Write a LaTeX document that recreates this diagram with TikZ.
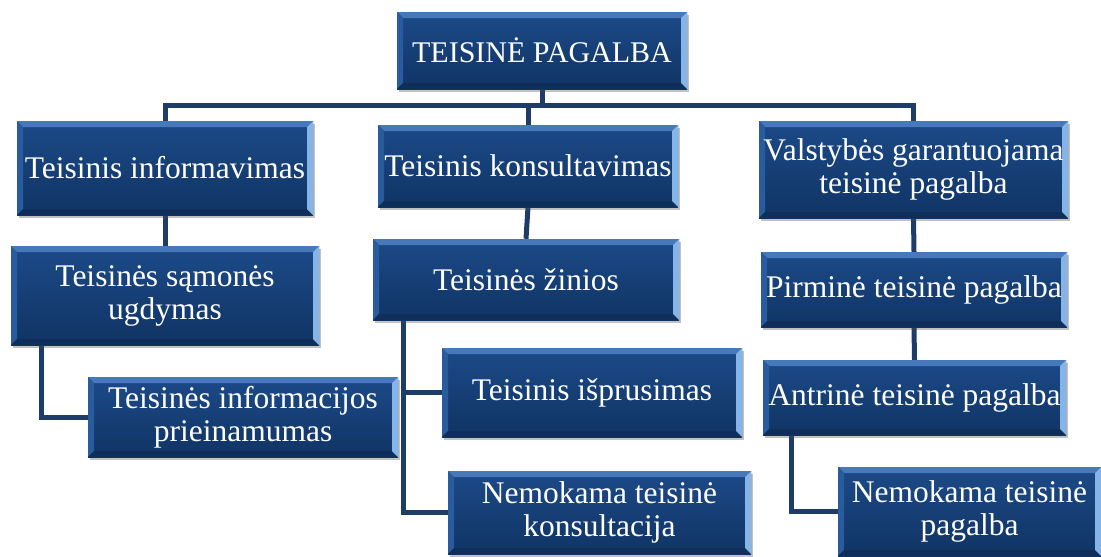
\documentclass[tikz,border=0pt]{standalone}
\usepackage{fontspec}
\setmainfont{Liberation Serif}
\usetikzlibrary{shadows}
\pgfdeclarelayer{background}
\pgfsetlayers{background,main}

\definecolor{boxtop}{RGB}{28,74,136}
\definecolor{boxbot}{RGB}{16,52,100}
\definecolor{bevtop}{RGB}{70,120,186}
\definecolor{bevleft}{RGB}{40,92,158}
\definecolor{bevright}{RGB}{132,180,232}
\definecolor{bevbot}{RGB}{15,46,90}
\definecolor{linkcol}{RGB}{30,60,105}

\begin{document}
\begin{tikzpicture}[x=1pt,y=-1pt]
	\tikzstyle{box}=[rectangle,inner sep=0pt,align=center,text=white,
		top color=boxtop,bottom color=boxbot,
		font=\fontsize{31.5}{33}\selectfont,
		drop shadow={shadow xshift=2pt,shadow yshift=-3pt,opacity=0.35,fill=black!70},
		path picture={
			\path (path picture bounding box.north west) coordinate (nw)
				(path picture bounding box.north east) coordinate (ne)
				(path picture bounding box.south west) coordinate (sw)
				(path picture bounding box.south east) coordinate (se);
			\fill[bevtop] (nw) -- (ne) -- ([xshift=-6pt,yshift=-6pt]ne) -- ([xshift=6pt,yshift=-6pt]nw) -- cycle;
			\fill[bevleft] (nw) -- ([xshift=6pt,yshift=-6pt]nw) -- ([xshift=6pt,yshift=6pt]sw) -- (sw) -- cycle;
			\fill[bevbot] (sw) -- ([xshift=6pt,yshift=6pt]sw) -- ([xshift=-6pt,yshift=6pt]se) -- (se) -- cycle;
			\fill[bevright] (ne) -- (se) -- ([xshift=-6pt,yshift=6pt]se) -- ([xshift=-6pt,yshift=-6pt]ne) -- cycle;
		}]
	\tikzstyle{link}=[draw=linkcol,line width=5pt]
	
	\useasboundingbox (0,0) rectangle (1101,557);
	
	\coordinate (bus) at (0,105);
	
	% level 1
	\node[box,minimum width=290pt,minimum height=77pt,font=\fontsize{30}{32}\selectfont] (root) at (542,50.5) {TEISINĖ PAGALBA};
	\node[box,minimum width=296pt,minimum height=94pt] (info) at (165,168) {Teisinis informavimas};
	\node[box,minimum width=300pt,minimum height=82pt] (kons) at (528,166) {Teisinis konsultavimas};
	\node[box,minimum width=309pt,minimum height=97pt] (valst) at (913.5,169.5) {Valstybės garantuojama\\teisinė pagalba};
	
	% level 2
	\node[box,minimum width=308pt,minimum height=99pt] (samon) at (165,295.5) {Teisinės sąmonės\\ugdymas};
	\node[box,minimum width=306pt,minimum height=81pt] (zinios) at (526,279.5) {Teisinės žinios};
	\node[box,minimum width=306pt,minimum height=75pt] (pirm) at (914,289.5) {Pirminė teisinė pagalba};
	\node[box,minimum width=303pt,minimum height=75pt] (antr) at (914.5,397.5) {Antrinė teisinė pagalba};
	
	% level 3
	\node[box,minimum width=310pt,minimum height=80pt] (prieinam) at (243,417) {Teisinės informacijos\\prieinamumas};
	\node[box,minimum width=300pt,minimum height=89pt] (ispr) at (592,392.5) {Teisinis išprusimas};
	\node[box,minimum width=303pt,minimum height=83pt] (nkons) at (599.5,512.5) {Nemokama teisinė\\konsultacija};
	\node[box,minimum width=263pt,minimum height=89pt] (npag) at (969.5,511.5) {Nemokama teisinė\\pagalba};
	
	% connectors behind the boxes
	\begin{pgfonlayer}{background}
	\draw[link] (root.south) -- (root.south |- bus);
	\draw[link] (info.north) -- (info.north |- bus) -| (valst.north);
	\draw[link] (kons.north) -- (kons.north |- bus);
	\draw[link] (info.south) -- (samon.north);
	\draw[link] (kons.south) -- (zinios.north);
	\draw[link] (valst.south) -- (pirm.north);
	\draw[link] (pirm.south) -- (antr.north);
	\draw[link] ([xshift=31pt]samon.south west) |- (prieinam.west);
	\draw[link] ([xshift=31pt]zinios.south west) |- (ispr.west);
	\draw[link] ([xshift=31pt]zinios.south west) |- (nkons.west);
	\draw[link] ([xshift=29pt]antr.south west) |- (npag.west);
	\end{pgfonlayer}
\end{tikzpicture}
\end{document}
